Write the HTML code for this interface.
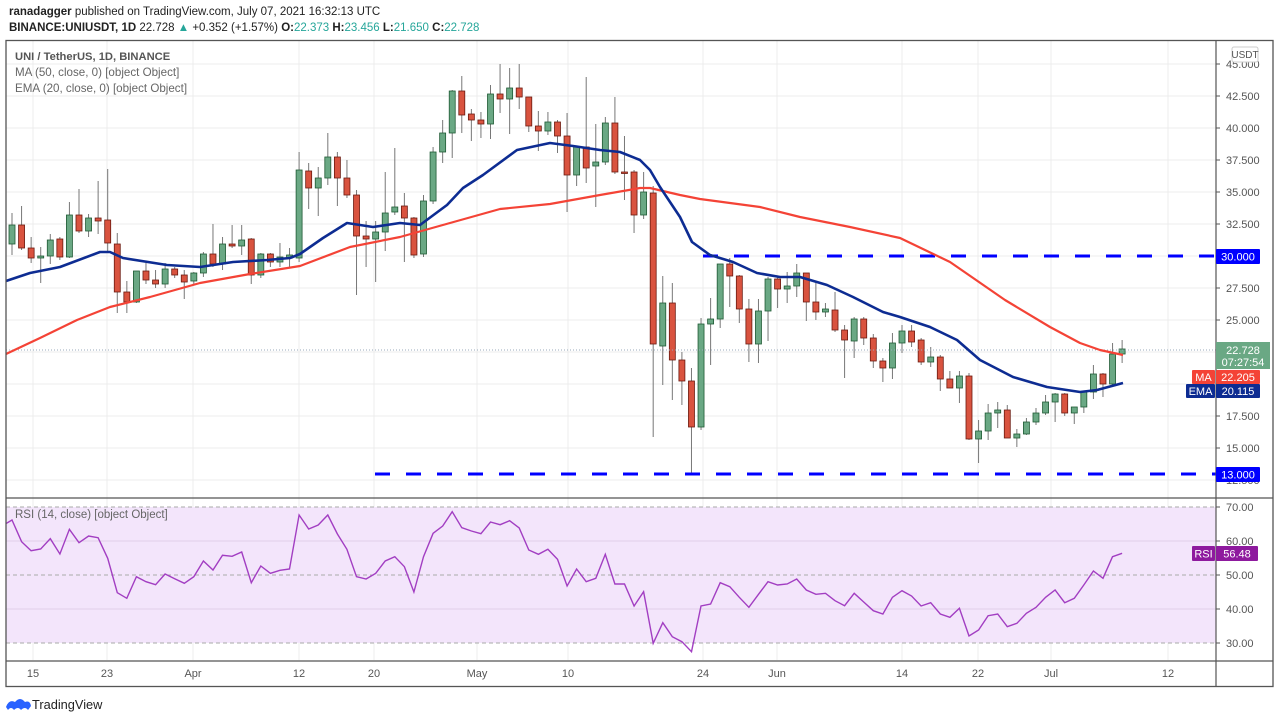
<!DOCTYPE html>
<html><head><meta charset="utf-8"><style>
html,body{margin:0;padding:0;background:#fff;width:1280px;height:721px;overflow:hidden}
svg{display:block}
text{font-family:"Liberation Sans",sans-serif}
</style></head><body>
<svg id="s" width="1280" height="721" xmlns="http://www.w3.org/2000/svg">
<defs>
<clipPath id="cp"><rect x="6" y="41" width="1210" height="457"/></clipPath>
<clipPath id="cr"><rect x="6" y="499" width="1210" height="161"/></clipPath>
</defs>
<text x="9" y="15" font-size="11.5" fill="#222"><tspan font-weight="bold">ranadagger</tspan> published on TradingView.com, July 07, 2021 16:32:13 UTC</text>
<text x="9" y="31" font-size="11.5" fill="#222"><tspan font-weight="bold">BINANCE:UNIUSDT, 1D</tspan>  22.728 <tspan fill="#26a69a">▲</tspan> +0.352 (+1.57%) <tspan font-weight="bold">O:</tspan><tspan fill="#26a69a">22.373</tspan> <tspan font-weight="bold">H:</tspan><tspan fill="#26a69a">23.456</tspan> <tspan font-weight="bold">L:</tspan><tspan fill="#26a69a">21.650</tspan> <tspan font-weight="bold">C:</tspan><tspan fill="#26a69a">22.728</tspan></text>
<g id="grid"></g>
<rect x="6" y="507" width="1210" height="136" fill="#f3e5fb"/>
<g id="rg"></g>
<g id="candles" clip-path="url(#cp)"></g>
<g id="lines"></g>
<rect x="6" y="40.5" width="1267" height="646" fill="none" stroke="#555" stroke-width="1.3"/>
<line x1="1216" y1="40" x2="1216" y2="687" stroke="#555" stroke-width="1.2"/>
<line x1="6" y1="498" x2="1273" y2="498" stroke="#555" stroke-width="1.2"/>
<line x1="6" y1="661" x2="1273" y2="661" stroke="#555" stroke-width="1.2"/>
<g id="axis"></g>
<text x="15" y="60" font-size="11.2" fill="#555" font-weight="bold">UNI / TetherUS, 1D, BINANCE</text>
<text x="15" y="76" font-size="11.6" fill="#666">MA (50, close, 0) [object Object]</text>
<text x="15" y="92" font-size="11.6" fill="#666">EMA (20, close, 0) [object Object]</text>
<text x="15" y="518" font-size="11.5" fill="#666">RSI (14, close) [object Object]</text>
<g id="tags"></g>
<path d="M6 707 q3-8 9-5 q5-6 10 0 q5-2 6 4 l-3 4 q-3-4-7 0 q-3-4-7 0 q-3-4-6 0z" fill="#2962ff"/>
<text x="32" y="709" font-size="12.8" fill="#222">TradingView</text>
</svg>
<script>
const NS="http://www.w3.org/2000/svg";
function el(p,t,a,txt){const e=document.createElementNS(NS,t);for(const k in a)e.setAttribute(k,a[k]);if(txt!==undefined)e.textContent=txt;document.getElementById(p).appendChild(e);return e;}
const py=p=>256+(30-p)*12.8;
[33,107,193,299,374,477,568,703,777,902,978,1051,1168].forEach(x=>el('grid','line',{x1:x,y1:41,x2:x,y2:660,stroke:'#ececec','stroke-width':1}));
for(let p=12.5;p<=45;p+=2.5){const y=py(p);el('grid','line',{x1:6,y1:y,x2:1216,y2:y,stroke:'#ececec','stroke-width':1});}
const C=[[244,225,213,255],[225,248,206,250],[248,258,237,263],[258,256,247,283],[256,240,234,264],[239,257,237,260],[257,215,202,258],[215,231,189,233],[231,218,214,237],[218,221,181,234],[220,243,169,253],[244,292,233,313],[292,302,281,313],[302,271,271,303],[271,280,263,284],[280,284,270,288],[284,269,263,288],[269,275,267,278],[275,282,270,299],[281,273,272,284],[273,254,252,277],[254,264,224,267],[264,244,237,270],[244,246,225,248],[246,240,225,255],[239,275,238,284],[275,254,253,278],[254,262,253,267],[262,257,243,267],[258,255,248,267],[258,170,152,262],
[171,188,163,209],[188,178,167,216],[178,157,133,185],[157,178,152,206],[178,195,160,198],[195,236,190,295],[236,239,221,267],[239,232,221,282],[232,213,172,251],[212,207,148,215],[206,218,193,262],[218,255,217,258],[254,201,195,257],[201,152,147,204],[152,133,120,163],[133,91,90,158],[91,115,76,133],[114,120,109,141],[120,124,112,138],[124,94,85,139],[94,99,64,113],[99,88,68,134],[88,97,64,109],[97,126,97,132],[126,131,111,151],[131,122,112,135],[122,136,120,153],[136,175,113,212],[175,147,147,186],[147,168,77,183],[166,162,124,207],[162,123,117,165],[123,172,97,174],[172,173,136,200],[172,215,170,233],
[215,192,172,219],[193,344,186,437],[346,303,276,385],[303,360,283,400],[360,381,352,405],[381,427,368,474],[427,324,318,430],[324,319,298,365],[319,264,264,328],[264,276,258,307],[276,309,275,323],[309,344,299,362],[344,311,299,363],[311,279,277,341],[279,289,277,308],[289,286,272,303],[286,273,264,297],[273,302,273,321],[302,312,283,320],[312,309,303,317],[310,330,292,332],[330,340,325,378],[341,319,317,358],[319,338,317,345],[338,361,334,368],[361,368,358,382],[368,343,333,379],
[343,331,325,353],[331,342,325,347],[340,362,338,365],[362,357,347,367],[357,379,355,391],[379,388,371,388],[388,376,371,403],[376,439,373,440],[439,431,420,463],[431,413,404,440],[413,410,402,428],[410,438,405,438],[438,434,429,447],[434,422,418,435],[422,413,408,425],[413,402,395,415],[402,394,393,422],[394,413,393,416],[413,407,407,424],[407,392,392,413],[392,374,365,399],[374,384,373,397],[384,354,343,386],[354,349,340,363]];
const X=i=>12+i*9.57;
C.forEach((c,i)=>{const [o,cl,h,l]=c;const up=cl<o;const x=X(i);
const fill=up?'#6aa884':'#d9533f',st=up?'#1f5a34':'#6b1a10';
el('candles','line',{x1:x,y1:h,x2:x,y2:l,stroke:'#777','stroke-width':1});
const t=Math.min(o,cl),b=Math.max(o,cl);
el('candles','rect',{x:x-3,y:t,width:6,height:Math.max(b-t,1.5),fill:fill,stroke:st,'stroke-width':0.8});});
el('lines','line',{x1:6,y1:350,x2:1216,y2:350,stroke:'#9ab','stroke-width':1,'stroke-dasharray':'1,2'});
el('lines','line',{x1:703,y1:256,x2:1216,y2:256,stroke:'#0000ff','stroke-width':3,'stroke-dasharray':'15,16'});
el('lines','line',{x1:375,y1:474,x2:1216,y2:474,stroke:'#0000ff','stroke-width':3,'stroke-dasharray':'15,16'});
const ma=[[6,354],[40,338],[77,320],[110,307],[150,297],[200,283],[250,274],[300,266],[350,247],[400,237],[450,223],[500,209],[550,204],[600,195],[640,188],[650,188],[680,195],[700,199],[760,207],[800,217],[850,227],[900,238],[950,262],[1005,300],[1050,327],[1080,343],[1100,350],[1123,355]];
const ema=[[6,281],[30,273],[60,267],[100,252],[110,252],[123,258],[167,265],[200,267],[233,262],[267,260],[290,258],[300,254],[323,238],[347,223],[373,227],[400,223],[420,225],[447,205],[463,188],[483,175],[517,150],[550,143],[573,146],[600,150],[620,152],[640,160],[650,170],[660,187],[680,217],[692,242],[710,255],[733,262],[757,273],[780,277],[800,277],[827,285],[853,297],[883,312],[900,317],[930,327],[957,340],[980,360],[1013,377],[1047,387],[1080,392],[1097,390],[1123,383]];
const pl=a=>a.map(p=>p.join(',')).join(' ');
el('lines','polyline',{points:pl(ma),fill:'none',stroke:'#f44336','stroke-width':2.2,'stroke-linejoin':'round'});
el('lines','polyline',{points:pl(ema),fill:'none',stroke:'#0d2c92','stroke-width':2.6,'stroke-linejoin':'round'});
[[507,1],[541,0],[575,1],[609,0],[643,1]].forEach(([y,d])=>el('rg','line',{x1:6,y1:y,x2:1216,y2:y,stroke:d?'#aaa':'#e2d0ea','stroke-width':1,'stroke-dasharray':d?'4,3':''}));
const R1=[60,125,152,147,116,162,88,128,108,113,175,278,295,230,245,254,222,236,250,230,183,210,166,169,156,248,198,220,211,207,45,87,75,45,102,148,230,237,220,183,170,200,276,170,100,78,35,83,93,101,66,74,62,84,150,163,148,178,258];
const R2=[207,245,235,163,252,252,318,275,430,368,410,425,455,318,312,248,260,292,322,283,245,255,252,237,270,283,280,302,317,280,306,332,342,292,272,288,318,308,342,352,325,408,390,347,342,380,370,340,322,292,270,308,295,255,213,235,170,160];
const R=R1.concat(R2);
let pts='2,526 '+R.map((v,i)=>X(i).toFixed(1)+','+(500+v/3).toFixed(1)).join(' ');
el('lines','polyline',{points:pts,fill:'none',stroke:'#a23ec2','stroke-width':1.4,'clip-path':'url(#cr)'});
for(let p=12.5;p<=45;p+=2.5){const y=py(p);el('axis','line',{x1:1216,y1:y,x2:1220,y2:y,stroke:'#555'});el('axis','text',{x:1226,y:y+4,'font-size':11,fill:'#555'},p.toFixed(3));}
[[70,507],[60,541],[50,575],[40,609],[30,643]].forEach(([v,y])=>{el('axis','line',{x1:1216,y1:y,x2:1220,y2:y,stroke:'#555'});el('axis','text',{x:1226,y:y+4,'font-size':11,fill:'#555'},v.toFixed(2));});
[[33,'15'],[107,'23'],[193,'Apr'],[299,'12'],[374,'20'],[477,'May'],[568,'10'],[703,'24'],[777,'Jun'],[902,'14'],[978,'22'],[1051,'Jul'],[1168,'12']].forEach(([x,t])=>el('axis','text',{x:x,y:677,'font-size':11,fill:'#555','text-anchor':'middle'},t));
const T=(x,y,w,h,f,t,tc)=>{el('tags','rect',{x:x,y:y,width:w,height:h,fill:f,rx:1});el('tags','text',{x:x+w/2,y:y+h/2+4,'font-size':11,fill:tc||'#fff','text-anchor':'middle'},t);};
el('tags','rect',{x:1232,y:47,width:26,height:15,fill:'#fff',stroke:'#ccc',rx:2});
el('tags','text',{x:1245,y:58,'font-size':10,fill:'#555','text-anchor':'middle'},'USDT');
T(1216,249,44,15,'#0000ff','30.000');
T(1216,467,44,15,'#0000ff','13.000');
el('tags','rect',{x:1216,y:342,width:54,height:27,fill:'#6aa884'});
el('tags','text',{x:1243,y:354,'font-size':11,fill:'#fff','text-anchor':'middle'},'22.728');
el('tags','text',{x:1243,y:366,'font-size':11,fill:'#fff','text-anchor':'middle'},'07:27:54');
T(1192,370,23,14,'#f44336','MA');T(1216,370,44,14,'#f44336','22.205');
T(1186,384,29,14,'#0d2c92','EMA');T(1216,384,44,14,'#0d2c92','20.115');
T(1192,546,23,15,'#8e1a9e','RSI');T(1216,546,42,15,'#8e1a9e','56.48');
</script>
</body></html>
